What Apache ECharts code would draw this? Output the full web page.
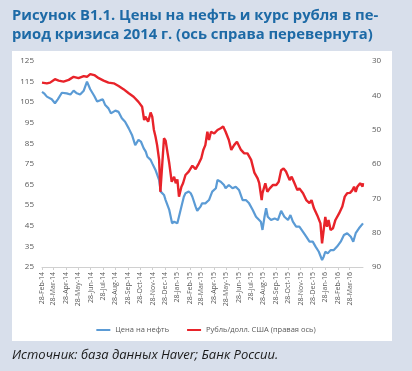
<!DOCTYPE html>
<html><head><meta charset="utf-8">
<script src="https://cdn.jsdelivr.net/npm/echarts@6/dist/echarts.min.js"></script>
<style>html,body{margin:0;padding:0;background:#d8dfeb;}#c{width:412px;height:371px;}</style>
</head><body><div id="c"></div>
<script>
const tickLabels = ['28-Feb-14','28-Mar-14','28-Apr-14','28-May-14','28-Jun-14','28-Jul-14','28-Aug-14','28-Sep-14','28-Oct-14','28-Nov-14','28-Dec-14','28-Jan-15','28-Feb-15','28-Mar-15','28-Apr-15','28-May-15','28-Jun-15','28-Jul-15','28-Aug-15','28-Sep-15','28-Oct-15','28-Nov-15','28-Dec-15','28-Jan-16','28-Feb-16','28-Mar-16'];
const leftTicks = [25,35,45,55,65,75,85,95,105,115,125];
const rightTicks = [30,40,50,60,70,80,90];

const oilDates = ['2014-02-28','2014-03-05','2014-03-12','2014-03-24','2014-04-01','2014-04-08','2014-04-18','2014-04-30','2014-05-09','2014-05-17','2014-05-25','2014-06-02','2014-06-11','2014-06-19','2014-06-27','2014-07-07','2014-07-14','2014-07-22','2014-07-28','2014-08-03','2014-08-11','2014-08-17','2014-08-28','2014-09-05','2014-09-13','2014-09-21','2014-09-30','2014-10-08','2014-10-16','2014-10-24','2014-10-30','2014-11-06','2014-11-11','2014-11-15','2014-11-19','2014-11-23','2014-11-27','2014-12-05','2014-12-14','2014-12-18','2014-12-26','2014-12-30','2015-01-08','2015-01-15','2015-01-20','2015-01-28','2015-02-01','2015-02-09','2015-02-13','2015-02-17','2015-02-25','2015-03-02','2015-03-06','2015-03-14','2015-03-18','2015-03-26','2015-03-30','2015-04-07','2015-04-16','2015-04-24','2015-05-03','2015-05-07','2015-05-15','2015-05-23','2015-05-27','2015-06-04','2015-06-13','2015-06-21','2015-06-29','2015-07-08','2015-07-16','2015-07-24','2015-08-02','2015-08-10','2015-08-14','2015-08-22','2015-08-26','2015-08-31','2015-09-04','2015-09-08','2015-09-16','2015-09-25','2015-10-03','2015-10-11','2015-10-19','2015-10-28','2015-11-03','2015-11-09','2015-11-17','2015-11-25','2015-12-04','2015-12-12','2015-12-20','2015-12-28','2016-01-04','2016-01-12','2016-01-20','2016-01-24','2016-01-28','2016-02-03','2016-02-10','2016-02-18','2016-02-26','2016-03-06','2016-03-14','2016-03-22','2016-03-31','2016-04-06','2016-04-12','2016-04-20','2016-04-24','2016-04-30'];
const oilValues = [110,109.3,107.7,106.4,104.5,106.4,109.6,109.3,108.7,110.6,109.3,108.7,110.6,115,111.3,108,105.3,106,106.4,103.6,102,99.6,100.9,100.3,97.2,95.5,92.3,89.1,84.2,86.7,85.9,82.6,81,78.5,79.4,77,75.3,72.1,67.2,61.6,60,57.5,52.7,46.2,47,46.2,47,55.9,59.1,60.8,61.6,60.8,59.1,54.3,52.3,54.3,55.9,55.9,57.5,61.6,63.2,67.2,66.4,64.8,63.2,64.8,63.2,64,62.4,57.5,57.5,55.9,52.7,49.4,49.4,47,43,49.4,53.5,49.4,47.8,48.6,47.8,52.3,49.4,47.8,50.2,47,44.6,44.6,42.1,39.7,37.3,37.3,34.9,32.4,28.4,30,32.4,31.6,33.2,33.2,34.9,37.3,40.5,41.4,39.7,37.3,41.4,43.8,43.8,46.2];

const rubDates = ['2014-02-28','2014-03-12','2014-03-20','2014-04-01','2014-04-10','2014-04-22','2014-05-05','2014-05-17','2014-05-29','2014-06-11','2014-06-19','2014-06-27','2014-07-07','2014-07-18','2014-07-30','2014-08-11','2014-08-24','2014-09-05','2014-09-17','2014-09-30','2014-10-12','2014-10-24','2014-11-02','2014-11-07','2014-11-10','2014-11-14','2014-11-17','2014-11-23','2014-11-27','2014-12-01','2014-12-05','2014-12-09','2014-12-14','2014-12-17','2014-12-22','2014-12-26','2014-12-30','2015-01-04','2015-01-08','2015-01-14','2015-01-20','2015-01-24','2015-01-28','2015-02-01','2015-02-07','2015-02-11','2015-02-17','2015-02-25','2015-03-06','2015-03-14','2015-03-22','2015-03-28','2015-04-02','2015-04-07','2015-04-12','2015-04-16','2015-04-21','2015-04-29','2015-05-07','2015-05-15','2015-05-21','2015-05-27','2015-06-04','2015-06-10','2015-06-17','2015-06-24','2015-07-04','2015-07-12','2015-07-20','2015-07-29','2015-08-06','2015-08-14','2015-08-18','2015-08-24','2015-08-26','2015-09-02','2015-09-07','2015-09-13','2015-09-21','2015-09-29','2015-10-05','2015-10-11','2015-10-17','2015-10-23','2015-11-01','2015-11-06','2015-11-13','2015-11-20','2015-11-25','2015-12-04','2015-12-12','2015-12-20','2015-12-25','2015-12-31','2016-01-08','2016-01-16','2016-01-20','2016-01-24','2016-01-28','2016-02-01','2016-02-05','2016-02-10','2016-02-16','2016-02-22','2016-03-02','2016-03-10','2016-03-16','2016-03-22','2016-03-29','2016-04-04','2016-04-08','2016-04-12','2016-04-16','2016-04-23','2016-04-29','2016-04-30'];
const rubValues = [36.3,36.5,36.3,35.3,35.7,36,35.5,34.6,35,34.4,34.6,33.8,34.1,35,35.7,36.3,36.5,37.3,38.2,39.4,40.4,41.9,43.3,47.2,46.2,46.2,47.7,45,46.2,50,52,54.5,58.8,68.1,59.5,52.5,53.2,56.9,59.8,65.2,63.7,65.6,64.5,69.5,66.6,65.6,63.2,62.2,60.5,61.5,59.8,58.3,55.9,54.5,50.6,53,50.6,51.1,50.1,49.6,49.1,50.6,53,55.9,54.5,53.5,55.9,56.9,56.9,58.8,62.5,64.2,65.6,70.5,68.5,65.6,68.1,67.1,66.1,66.1,65.2,61.8,61.3,62.2,64.7,63.7,65.6,67.6,67.1,68.5,70.5,71.4,70.5,72.9,74.9,77.3,83.1,79.2,75.4,78.3,76.3,79.2,78.7,76.3,74.4,72.4,69.5,68.5,68.4,67.6,66.6,68.1,66.6,65.6,66.6,65.6];

const seriesNames = ['Цена на нефть','Рубль/долл. США (правая ось)'];
const titleLines = ['Рисунок В1.1. Цены на нефть и курс рубля в пе-','риод кризиса 2014 г. (ось справа перевернута)'];
const sourceText = 'Источник: база данных Haver; Банк России.';

const MON = {Jan:0,Feb:1,Mar:2,Apr:3,May:4,Jun:5,Jul:6,Aug:7,Sep:8,Oct:9,Nov:10,Dec:11};
const DAY = 86400000;
const toDay = t => Math.round(t / DAY);
const tickDays = tickLabels.map(s => { const p = s.split('-'); return toDay(Date.UTC(2000 + +p[2], MON[p[1]], +p[0])); });
const labelByDay = {}; tickDays.forEach((t,i)=>labelByDay[t]=tickLabels[i]);
const dayOf = s => { const p = s.split('-'); return toDay(Date.UTC(+p[0], +p[1]-1, +p[2])); };

const chart = echarts.init(document.getElementById('c'), null, {renderer:'canvas'});
const gray = '#595959';
chart.setOption({
  animation:false,
  backgroundColor:'#d8dfeb',
  graphic:[
    {type:'rect', shape:{x:12,y:51,width:380,height:290}, style:{fill:'#ffffff'}, z:-10},
    {type:'text', x:12, y:23, style:{text:titleLines[0], font:'bold 14.8px "Open Sans"', fill:'#1d6aa6', verticalAlign:'bottom'}},
    {type:'text', x:12, y:42.5, style:{text:titleLines[1], font:'bold 14.8px "Open Sans"', fill:'#1d6aa6', verticalAlign:'bottom'}},
    {type:'text', x:12, y:362, style:{text:sourceText, font:'italic 13px "Open Sans"', fill:'#1a1a1a', verticalAlign:'bottom'}}
  ],
  legend:{
    left:'center', top:321, itemGap:18, itemWidth:14, itemHeight:2, icon:'rect',
    textStyle:{fontSize:7.5, color:gray, fontFamily:'"Open Sans"'},
    data:seriesNames
  },
  grid:{left:42, right:49, top:61, bottom:104, containLabel:false},
  xAxis:{
    type:'value',
    min:dayOf('2014-02-28'), max:dayOf('2016-04-30'),
    axisLine:{show:true, lineStyle:{color:'#d0d0d0', width:1}},
    axisTick:{show:true, customValues:tickDays, length:3, lineStyle:{color:'#d0d0d0'}},
    axisLabel:{customValues:tickDays, rotate:90, fontSize:7, color:gray, margin:5, fontFamily:'"Open Sans"',
      formatter:v=>labelByDay[v] || ''},
    splitLine:{show:false}
  },
  yAxis:[
    {type:'value', min:leftTicks[0], max:leftTicks[leftTicks.length-1], interval:10,
      axisLine:{show:false}, axisTick:{show:false}, splitLine:{show:false},
      axisLabel:{fontSize:8, color:gray, margin:8, fontFamily:'"Open Sans"'}},
    {type:'value', inverse:true, min:rightTicks[0], max:rightTicks[rightTicks.length-1], interval:10,
      axisLine:{show:false}, axisTick:{show:false}, splitLine:{show:false},
      axisLabel:{fontSize:8, color:gray, margin:9, fontFamily:'"Open Sans"'}}
  ],
  series:[
    {name:seriesNames[0], type:'line', yAxisIndex:0, showSymbol:false, symbol:'none',
      data:oilDates.map((d,i)=>[dayOf(d), oilValues[i]]),
      lineStyle:{color:'#5b9bd5', width:2.2}, itemStyle:{color:'#5b9bd5'}, z:2},
    {name:seriesNames[1], type:'line', yAxisIndex:1, showSymbol:false, symbol:'none',
      data:rubDates.map((d,i)=>[dayOf(d), rubValues[i]]),
      lineStyle:{color:'#e8232a', width:2.4}, itemStyle:{color:'#e8232a'}, z:3}
  ]
});
</script></body></html>
